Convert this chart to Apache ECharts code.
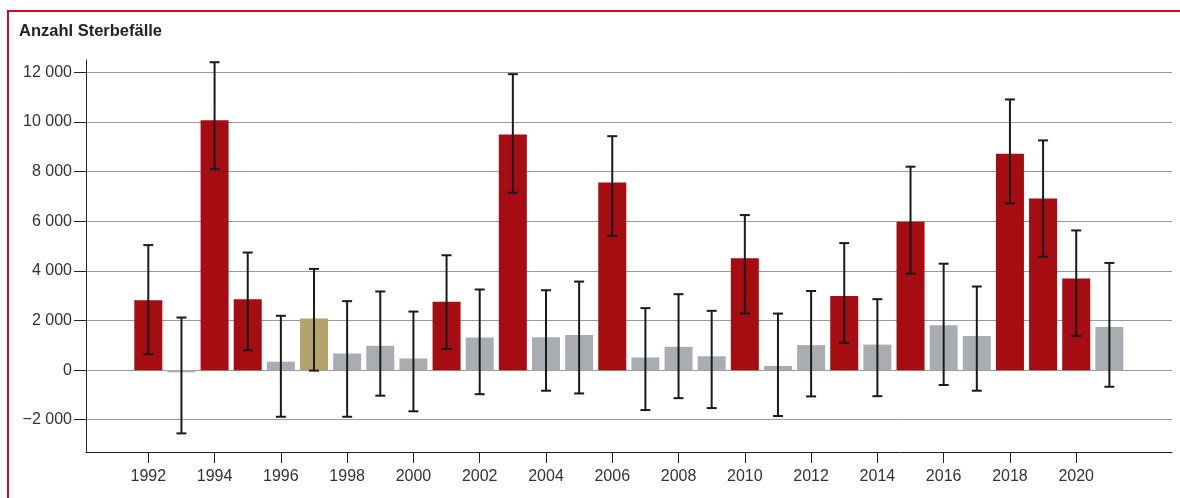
<!DOCTYPE html>
<html>
<head>
<meta charset="utf-8">
<script src="https://cdn.jsdelivr.net/npm/echarts@6/dist/echarts.min.js"></script>
<style>
  html, body { margin: 0; padding: 0; background: #fff; }
  #chart { width: 1180px; height: 498px; }
</style>
</head>
<body>
<div id="chart"></div>
<script>
// Hitzebedingte Sterbefälle pro Jahr mit Unsicherheitsbereich
const years = [1992, 1993, 1994, 1995, 1996, 1997, 1998, 1999, 2000, 2001,
               2002, 2003, 2004, 2005, 2006, 2007, 2008, 2009, 2010, 2011,
               2012, 2013, 2014, 2015, 2016, 2017, 2018, 2019, 2020, 2021];
const deaths = [2820, -90, 10070, 2860, 340, 2080, 670, 980, 470, 2760,
                1320, 9500, 1330, 1420, 7560, 510, 940, 560, 4510, 170,
                1010, 2990, 1030, 5980, 1810, 1380, 8720, 6920, 3690, 1740];
const upper = [5040, 2120, 12410, 4740, 2190, 4080, 2780, 3170, 2360, 4630,
               3250, 11930, 3220, 3570, 9430, 2500, 3060, 2390, 6250, 2280,
               3190, 5120, 2860, 8200, 4290, 3370, 10910, 9260, 5630, 4320];
const lower = [640, -2550, 8100, 800, -1880, -20, -1880, -1030, -1660, 850,
               -970, 7150, -830, -940, 5410, -1610, -1130, -1530, 2280, -1850,
               -1060, 1100, -1050, 3890, -600, -830, 6720, 4570, 1380, -670];
// sig = signifikant, ns = nicht signifikant, sp = Sonderfall
const status = ['sig', 'ns', 'sig', 'sig', 'ns', 'sp', 'ns', 'ns', 'ns', 'sig',
                'ns', 'sig', 'ns', 'ns', 'sig', 'ns', 'ns', 'ns', 'sig', 'ns',
                'ns', 'sig', 'ns', 'sig', 'ns', 'ns', 'sig', 'sig', 'sig', 'ns'];
const yTicks = [-2000, 0, 2000, 4000, 6000, 8000, 10000, 12000];
const xTicks = [1992, 1994, 1996, 1998, 2000, 2002, 2004, 2006, 2008, 2010,
                2012, 2014, 2016, 2018, 2020];
const title = 'Anzahl Sterbefälle';

const colors = { sig: '#a60d12', ns: '#a9adb1', sp: '#b4a36b' };
const font = '"Liberation Sans", Arial, sans-serif';

const barData = years.map((y, i) => ({
  value: [y, deaths[i]],
  itemStyle: { color: colors[status[i]] }
}));
const errData = years.map((y, i) => [y, lower[i], upper[i]]);

const chart = echarts.init(document.getElementById('chart'), null, { renderer: 'canvas' });
chart.setOption({
  animation: false,
  backgroundColor: '#fff',
  title: {
    text: title,
    left: 14, top: 18,
    textStyle: { fontFamily: font, fontSize: 16.5, fontWeight: 'bold', color: '#222' }
  },
  graphic: [{
    type: 'rect',
    shape: { x: 8, y: 11, width: 1200, height: 520 },
    style: { fill: 'none', stroke: '#c8102e', lineWidth: 2 },
    silent: true, z: 100
  }],
  grid: { left: 86, right: 8, top: 60, bottom: 46, containLabel: false },
  xAxis: {
    type: 'value',
    min: 1990.12, max: 2022.89,
    axisLine: { show: true, onZero: false, lineStyle: { color: '#222', width: 1 } },
    axisTick: { show: true, inside: false, customValues: xTicks, length: 11, lineStyle: { color: '#222', width: 1 } },
    axisLabel: {
      customValues: xTicks, color: '#333', fontFamily: font, fontSize: 16, margin: 17,
      formatter: v => String(v)
    },
    splitLine: { show: false }
  },
  yAxis: {
    type: 'value',
    min: -3300, max: 12500,
    axisLine: { show: true, lineStyle: { color: '#222', width: 1 } },
    axisTick: { show: true, customValues: yTicks, length: 12, lineStyle: { color: '#222' } },
    axisLabel: {
      customValues: yTicks, color: '#333', fontFamily: font, fontSize: 16, margin: 14,
      formatter: v => String(v).replace(/\B(?=(\d{3})+(?!\d))/g, ' ').replace('-', '\u2212')
    },
    splitLine: { show: true, lineStyle: { color: '#9a9a9a', width: 1 } }
  },
  series: [
    {
      type: 'bar',
      data: barData,
      barWidth: 28,
      z: 2
    },
    {
      type: 'custom',
      data: errData,
      z: 5,
      renderItem: function (params, api) {
        const x = api.value(0);
        const lo = api.coord([x, api.value(1)]);
        const hi = api.coord([x, api.value(2)]);
        const cap = 5;
        const style = { stroke: '#1a1a1a', lineWidth: 2 };
        return {
          type: 'group',
          children: [
            { type: 'line', shape: { x1: lo[0], y1: lo[1], x2: hi[0], y2: hi[1] }, style },
            { type: 'line', shape: { x1: hi[0] - cap, y1: hi[1], x2: hi[0] + cap, y2: hi[1] }, style },
            { type: 'line', shape: { x1: lo[0] - cap, y1: lo[1], x2: lo[0] + cap, y2: lo[1] }, style }
          ]
        };
      }
    }
  ]
});
</script>
</body>
</html>
